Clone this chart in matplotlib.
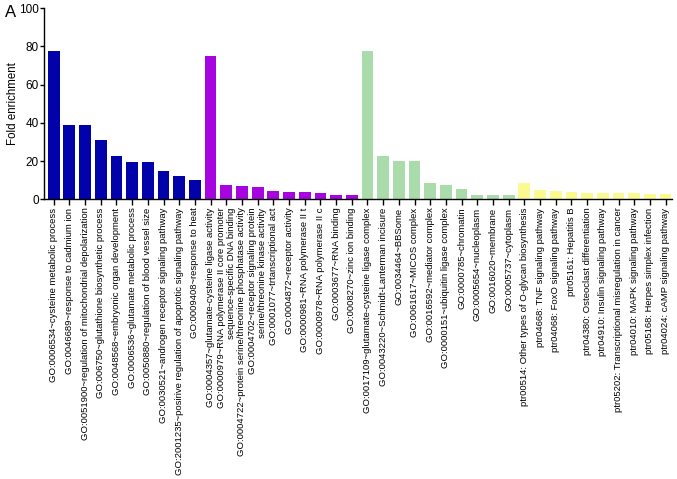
import matplotlib.pyplot as plt
import numpy as np

plt.rcParams['font.family'] = ['Liberation Sans', 'DejaVu Sans']

# GO biological process
bp_labels = ['GO:0006534~cysteine metabolic process',
             'GO:0046689~response to cadmium ion',
             'GO:0051900~regulation of mitochondrial depolarization',
             'GO:006750~glutathione biosynthetic process',
             'GO:0048568~embryonic organ development',
             'GO:0006536~glutamate metabolic process',
             'GO:0050880~regulation of blood vessel size',
             'GO:0030521~androgen receptor signaling pathway',
             'GO:2001235~posirive regulation of apoptotic signaling pathway',
             'GO:0009408~response to heat']
bp_vals = [77.6, 38.9, 38.9, 31.2, 22.5, 19.7, 19.7, 15.0, 12.1, 10.0]

# GO molecular function
mf_labels = ['GO:0004357~glutamate-cysteine ligase activity',
             'GO:0000979~RNA polymerase II core promoter\nsequence-specific DNA binding',
             'GO:0004722~protein serine/threonine phosphatase activity',
             'GO:0004702~receptor signaling protein\nserine/threonine kinase activity',
             'GO:0001077~trtanscriptional act',
             'GO:0004872~receptor activity',
             'GO:0000981~RNA polymerase II t',
             'GO:0000978~RNA polymerase II c',
             'GO:0003677~RNA binding',
             'GO:0008270~zinc ion binding']
mf_vals = [75.0, 7.3, 6.8, 6.3, 4.3, 4.0, 3.6, 3.5, 2.3, 2.1]

# GO cellular component
cc_labels = ['GO:0017109~glutamate-cysteine ligase complex',
             'GO:0043220~Schmidt-Lanterman incisure',
             'GO:0034464~BBSome',
             'GO:0061617~MICOS complex',
             'GO:0016592~mediator complex',
             'GO:0000151~ubiquitin ligase complex',
             'GO:0000785~chromatin',
             'GO:0005654~nucleoplasm',
             'GO:0016020~membrane',
             'GO:0005737~cytoplasm']
cc_vals = [77.8, 22.6, 19.8, 19.8, 8.4, 7.7, 5.4, 2.4, 2.3, 2.1]

# KEGG pathways
kegg_labels = ['ptr00514: Other types of O-glycan biosynthesis',
               'ptr04668: TNF signaling pathway',
               'ptr04068: FoxO signaling pathway',
               'ptr05161: Hepatitis B',
               'ptr04380: Osteoclast differentiation',
               'ptr04910: Insulin signaling pathway',
               'ptr05202: Transcriptional misregulation in cancer',
               'ptr04010: MAPK signaling pathway',
               'ptr05168: Herpes simplex infection',
               'ptr04024: cAMP signaling pathway']
kegg_vals = [8.5, 4.9, 4.2, 3.8, 3.5, 3.5, 3.5, 3.1, 3.0, 3.0]

groups = [(bp_labels, bp_vals, '#0202aa'),
          (mf_labels, mf_vals, '#a605e0'),
          (cc_labels, cc_vals, '#a9dcaa'),
          (kegg_labels, kegg_vals, '#fbfa90')]

fig = plt.figure(figsize=(6.77, 4.79), dpi=100)
ax = fig.add_axes([0.0654, 0.584, 0.927, 0.399])

labels = []
start = 0
for lab, vals, col in groups:
    x = np.arange(start, start + len(vals))
    ax.bar(x, vals, width=0.75, color=col, edgecolor='none')
    labels += lab
    start += len(vals)

ax.set_xlim(-0.6, start - 0.6)
ax.set_ylim(0, 100)
ax.set_yticks([0, 20, 40, 60, 80, 100])
ax.tick_params(axis='y', labelsize=8.5, length=3, width=1, pad=1)
ax.set_xticks(np.arange(len(labels)))
ax.set_xticklabels(labels, rotation=90, fontsize=6.8, multialignment='right')
ax.tick_params(axis='x', length=4, width=1, pad=2)
ax.set_ylabel('Fold enrichment', fontsize=8.3)
ax.yaxis.set_label_coords(-0.040, 0.5)
for s in ['top', 'right']:
    ax.spines[s].set_visible(False)
ax.spines['left'].set_linewidth(1)
ax.spines['bottom'].set_linewidth(1)

fig.text(0.008, 0.964, 'A', fontsize=12)

fig.savefig('out.png', dpi=100)
